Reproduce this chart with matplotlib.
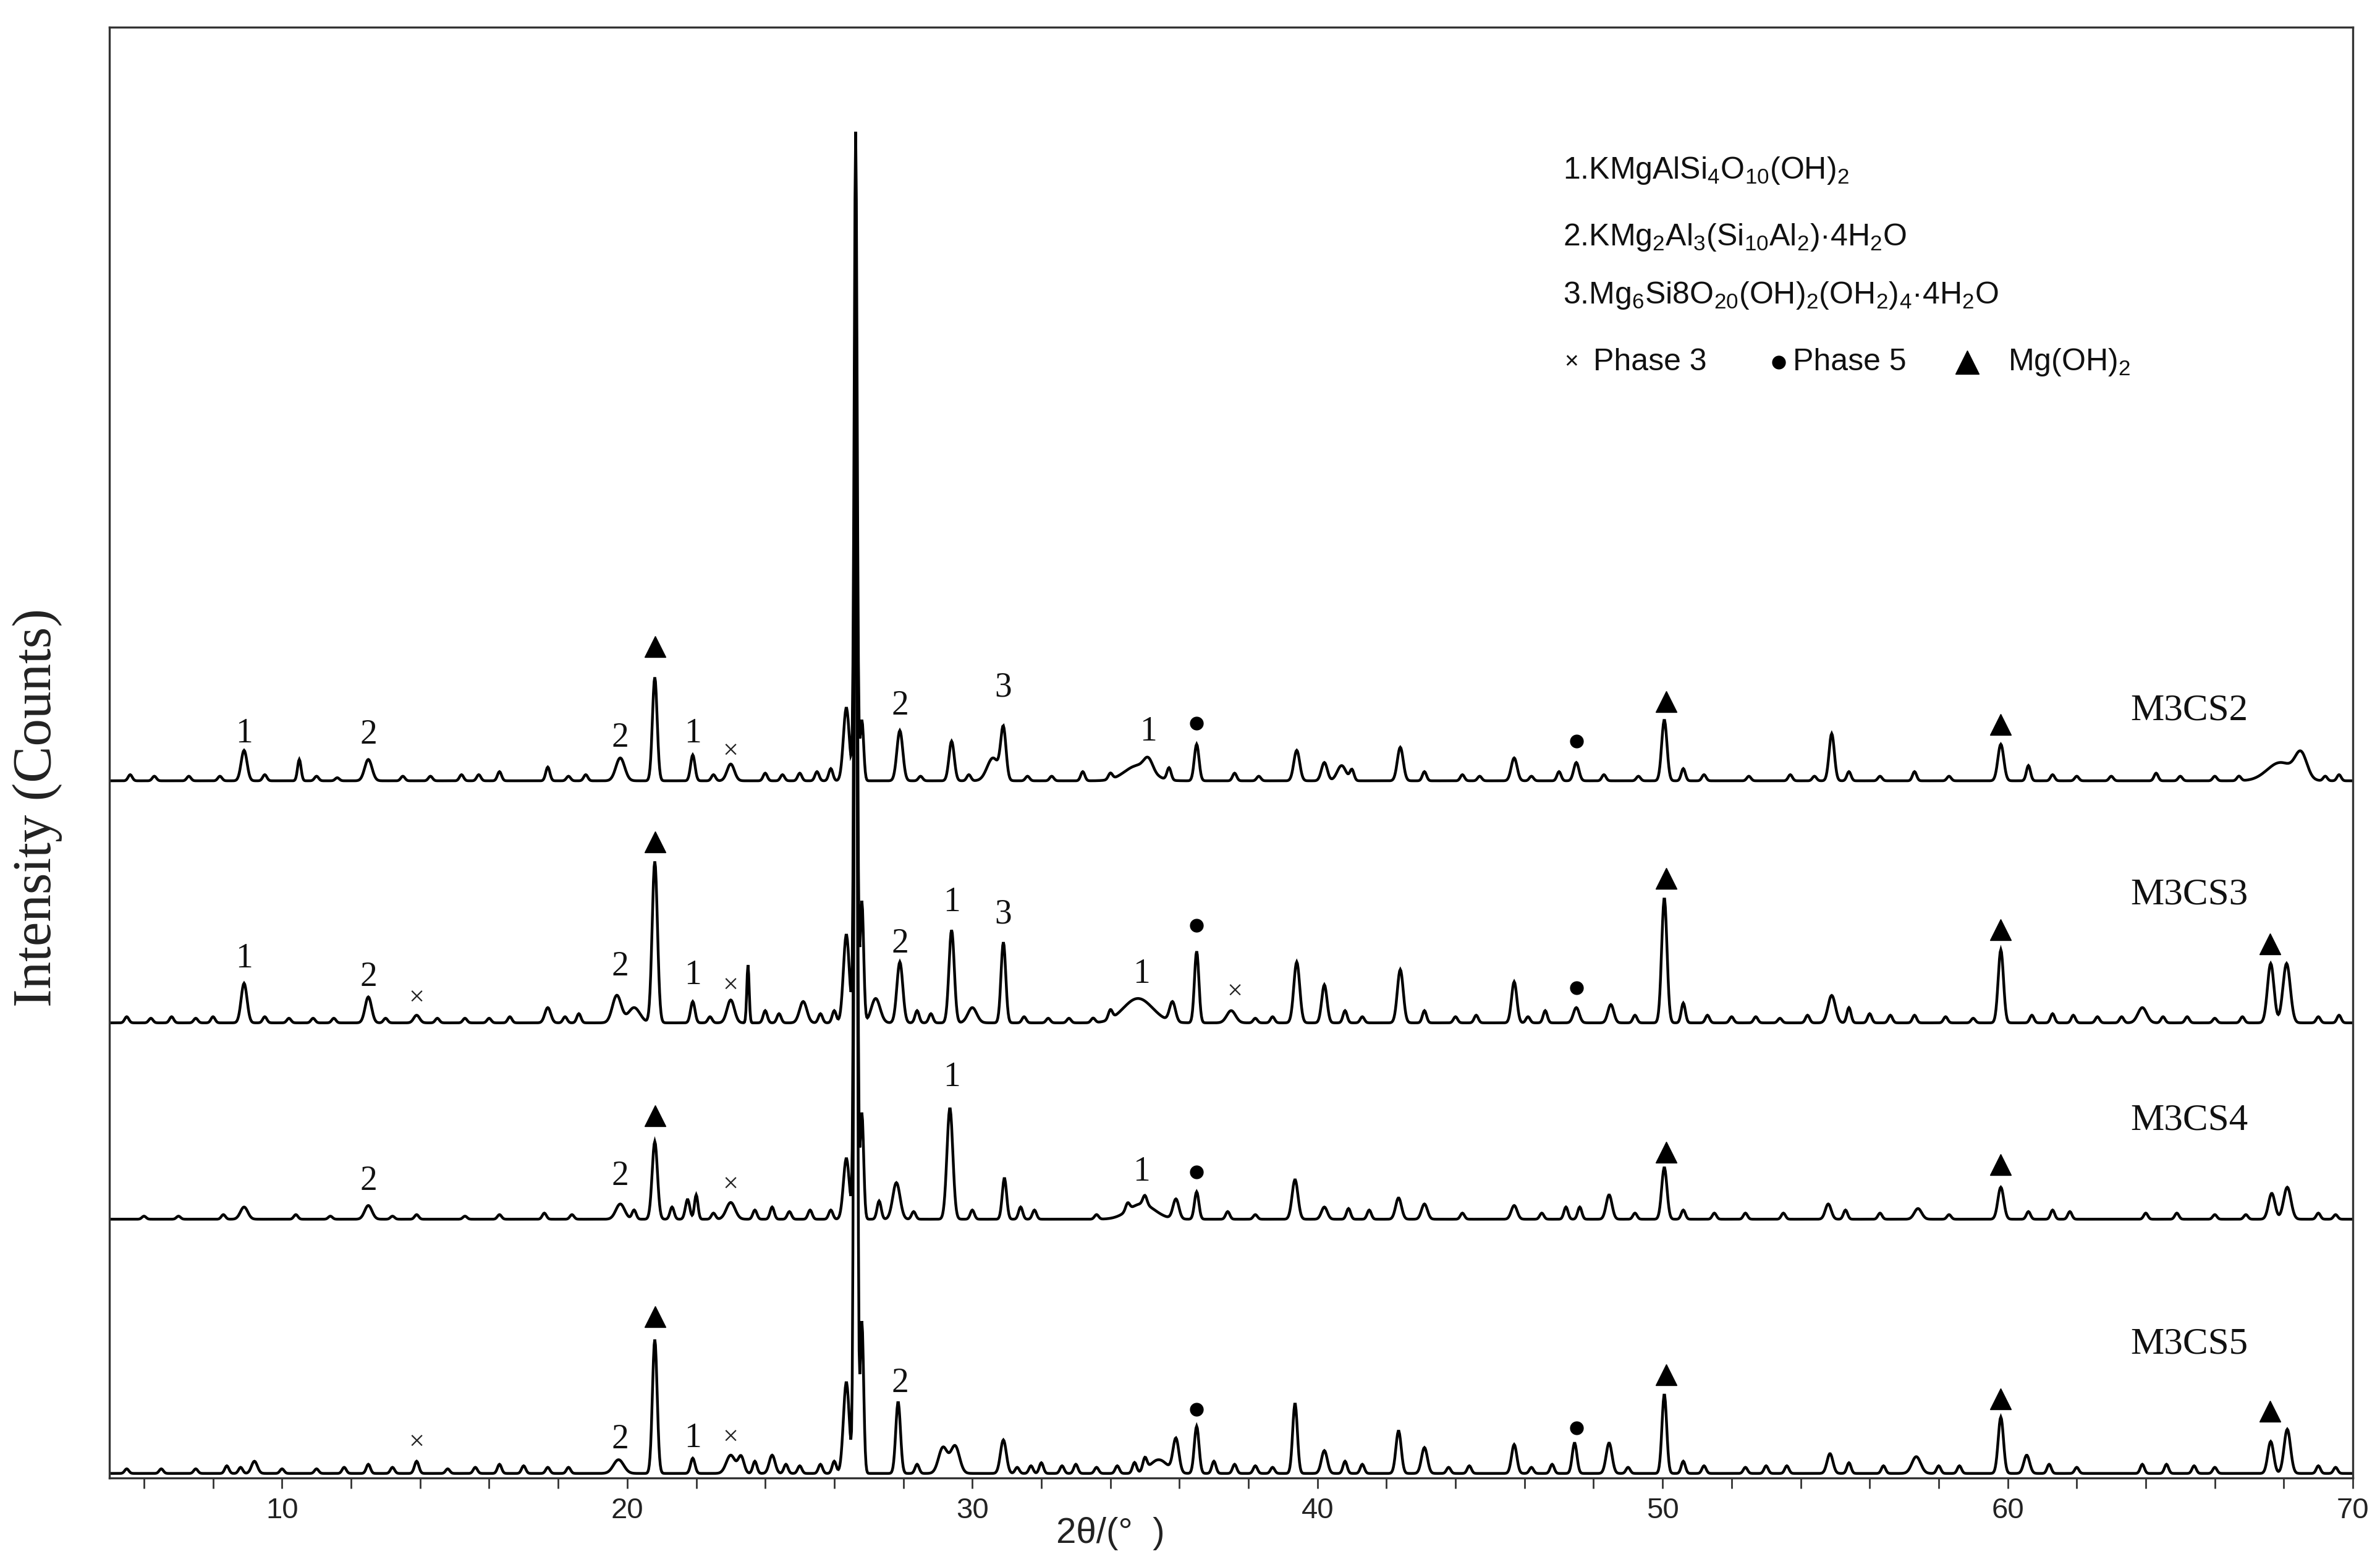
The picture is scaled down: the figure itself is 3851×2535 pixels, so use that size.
import numpy as np
import matplotlib
matplotlib.use("Agg")
import matplotlib.pyplot as plt

plt.rcParams['mathtext.fontset'] = 'custom'
plt.rcParams['mathtext.rm'] = 'Liberation Sans'
plt.rcParams['mathtext.default'] = 'regular'

# ---------------- data ----------------
two_theta_range = [5, 70]
x_ticks_major = [10, 20, 30, 40, 50, 60, 70]
samples = ['M3CS2', 'M3CS3', 'M3CS4', 'M3CS5']
baselines = [458, 299, 170, 3]

# main peaks: position (2theta), height above baseline, FWHM
m3cs2_pos = [8.9, 10.5, 12.5, 19.8, 20.8, 21.9, 23.0, 26.35, 26.62, 26.8, 27.9, 29.4, 30.6, 30.9,
             34.8, 35.1, 36.5, 39.4, 40.2, 40.7, 42.4, 45.7, 47.5, 50.05, 54.9, 59.8, 67.9, 68.5]
m3cs2_h = [20, 14, 14, 15, 68, 17, 11, 48, 426, 40, 33, 26, 15, 33,
           10, 8, 24, 20, 12, 10, 22, 15, 12, 40, 31, 24, 12, 16]
m3cs2_w = [0.2, 0.12, 0.25, 0.3, 0.16, 0.15, 0.25, 0.2, 0.1, 0.12, 0.2, 0.18, 0.4, 0.18,
           0.9, 0.3, 0.16, 0.2, 0.2, 0.3, 0.2, 0.2, 0.18, 0.18, 0.18, 0.2, 0.9, 0.4]

m3cs3_pos = [8.9, 12.5, 13.9, 17.7, 19.7, 20.2, 20.8, 21.9, 23.0, 23.5, 25.1, 26.35, 26.62, 26.8,
             27.2, 27.9, 29.4, 30.0, 30.9, 34.8, 35.8, 36.5, 37.5, 39.4, 40.2, 42.4, 45.7, 47.5,
             48.5, 50.05, 54.9, 59.8, 63.9, 67.62, 68.08]
m3cs3_h = [26, 17, 5, 10, 18, 10, 106, 14, 15, 38, 14, 58, 528, 80,
           16, 40, 61, 10, 53, 16, 13, 47, 8, 40, 25, 35, 27, 10,
           12, 82, 18, 48, 10, 39, 39]
m3cs3_w = [0.2, 0.22, 0.2, 0.2, 0.3, 0.4, 0.18, 0.15, 0.25, 0.08, 0.25, 0.2, 0.1, 0.12,
           0.3, 0.2, 0.18, 0.3, 0.16, 1.0, 0.2, 0.15, 0.3, 0.2, 0.18, 0.2, 0.18, 0.2,
           0.2, 0.18, 0.25, 0.18, 0.3, 0.22, 0.25]

m3cs4_pos = [8.9, 12.5, 19.8, 20.8, 21.75, 22.0, 23.0, 26.35, 26.62, 26.8, 27.8, 29.35, 30.93,
             34.9, 35.9, 36.5, 39.35, 40.2, 42.35, 43.1, 45.7, 48.45, 50.05, 54.8, 57.4, 59.8,
             67.65, 68.1]
m3cs4_h = [8, 9, 10, 51, 13, 16, 11, 40, 656, 70, 24, 73, 27,
           10, 13, 18, 26, 8, 14, 10, 9, 16, 34, 10, 7, 21,
           17, 21]
m3cs4_w = [0.25, 0.25, 0.3, 0.18, 0.15, 0.12, 0.3, 0.2, 0.1, 0.12, 0.25, 0.2, 0.15,
           0.9, 0.2, 0.15, 0.2, 0.2, 0.2, 0.2, 0.2, 0.2, 0.18, 0.2, 0.25, 0.2,
           0.22, 0.25]

m3cs5_pos = [9.2, 13.9, 19.75, 20.8, 21.9, 23.0, 23.3, 24.2, 26.35, 26.62, 26.8, 27.85, 29.15,
             29.5, 30.9, 35.4, 35.9, 36.5, 39.35, 40.2, 42.35, 43.1, 45.7, 47.45, 48.45, 50.05,
             54.85, 57.35, 59.8, 60.55, 67.62, 68.1]
m3cs5_h = [8, 8, 9, 88, 10, 12, 11, 12, 60, 823, 100, 47, 17,
           18, 22, 9, 22, 31, 46, 15, 28, 17, 19, 20, 20, 52,
           13, 11, 37, 12, 21, 29]
m3cs5_w = [0.2, 0.15, 0.35, 0.16, 0.15, 0.3, 0.2, 0.2, 0.2, 0.1, 0.12, 0.16, 0.3,
           0.3, 0.2, 0.6, 0.2, 0.16, 0.16, 0.2, 0.18, 0.2, 0.18, 0.16, 0.2, 0.16,
           0.2, 0.3, 0.18, 0.2, 0.2, 0.22]

# small background bumps: position, height
m3cs2_minor_pos = [5.6, 6.3, 7.3, 8.2, 9.5, 11.0, 11.6, 13.5, 14.3, 15.2, 15.7, 16.3, 17.7, 18.3, 18.8,
                   22.5, 24.0, 24.5, 25.0, 25.5, 25.9, 28.5, 29.9, 31.6, 32.3, 33.2, 34.0, 35.7, 37.6,
                   38.3, 41.0, 43.1, 44.2, 44.7, 46.2, 47.0, 48.3, 49.3, 50.6, 51.2, 52.5, 53.7, 54.4,
                   55.4, 56.3, 57.3, 58.3, 60.6, 61.3, 62.0, 63.0, 64.3, 65.0, 66.0, 66.7, 69.2, 69.6]
m3cs2_minor_h = [4, 3, 3, 3, 4, 3, 2, 3, 3, 4, 4, 6, 9, 3, 4,
                 4, 5, 4, 5, 6, 8, 3, 4, 3, 3, 6, 4, 8, 5,
                 3, 7, 6, 4, 3, 3, 6, 4, 3, 8, 4, 3, 4, 3,
                 6, 3, 6, 3, 10, 4, 3, 3, 5, 3, 3, 3, 3, 4]

m3cs3_minor_pos = [5.5, 6.2, 6.8, 7.5, 8.0, 9.5, 10.2, 10.9, 11.5, 13.0, 14.5, 15.3, 16.0, 16.6, 18.2,
                   18.6, 22.4, 24.0, 24.4, 25.6, 26.0, 28.4, 28.8, 31.5, 32.2, 32.8, 33.5, 34.0, 38.2,
                   38.7, 40.8, 41.3, 43.1, 44.0, 44.6, 46.1, 46.6, 49.2, 50.6, 51.3, 52.0, 52.7, 53.4,
                   54.2, 55.4, 56.0, 56.6, 57.3, 58.2, 59.0, 60.7, 61.3, 61.9, 62.6, 63.3, 64.5, 65.2,
                   66.0, 66.8, 69.0, 69.6]
m3cs3_minor_h = [4, 3, 4, 3, 4, 4, 3, 3, 3, 3, 3, 3, 3, 4, 4,
                 6, 4, 8, 6, 6, 8, 8, 6, 4, 3, 3, 3, 6, 3,
                 4, 8, 4, 8, 4, 5, 4, 8, 5, 13, 5, 4, 4, 3,
                 5, 10, 6, 5, 5, 4, 3, 5, 6, 5, 4, 4, 4, 4,
                 3, 4, 4, 5]

m3cs4_minor_pos = [6.0, 7.0, 8.3, 10.4, 11.4, 13.2, 13.9, 15.3, 16.3, 17.6, 18.4, 20.2, 21.3, 22.5,
                   23.7, 24.2, 24.7, 25.3, 25.9, 27.3, 28.3, 30.0, 31.4, 31.8, 33.6, 34.5, 35.0, 37.4,
                   38.2, 40.9, 41.5, 44.2, 46.5, 47.2, 47.6, 49.2, 50.6, 51.5, 52.4, 53.5, 55.3, 56.3,
                   58.3, 60.6, 61.3, 61.8, 64.0, 64.9, 66.0, 66.9, 69.0, 69.5]
m3cs4_minor_h = [2, 2, 3, 3, 2, 2, 3, 2, 3, 4, 3, 6, 8, 4,
                 6, 8, 5, 6, 6, 12, 5, 6, 8, 6, 3, 5, 6, 5,
                 3, 7, 6, 4, 4, 8, 8, 4, 6, 4, 4, 4, 6, 4,
                 3, 5, 6, 5, 4, 4, 3, 3, 4, 3]

m3cs5_minor_pos = [5.5, 6.5, 7.5, 8.4, 8.8, 10.0, 11.0, 11.8, 12.5, 13.2, 14.8, 15.6, 16.3, 17.0, 17.7,
                   18.3, 23.7, 24.6, 25.0, 25.6, 26.0, 28.4, 31.3, 31.7, 32.0, 32.6, 33.0, 33.6, 34.2,
                   34.7, 35.0, 37.0, 37.6, 38.2, 38.7, 40.8, 41.3, 43.8, 44.4, 46.2, 46.8, 49.0, 50.6,
                   51.2, 52.4, 53.0, 53.6, 55.4, 56.4, 58.0, 58.6, 61.2, 62.0, 63.9, 64.6, 65.4, 66.0,
                   69.0, 69.5]
m3cs5_minor_h = [3, 3, 3, 5, 4, 3, 3, 4, 6, 4, 3, 4, 6, 5, 4,
                 4, 8, 6, 5, 6, 8, 6, 4, 5, 7, 5, 6, 4, 5,
                 7, 8, 8, 6, 5, 4, 8, 6, 4, 5, 4, 6, 4, 8,
                 5, 4, 5, 5, 7, 5, 5, 5, 6, 4, 6, 6, 5, 4,
                 5, 4]

# annotations (2theta, intensity position)
num_text = ['1', '2', '2', '1', '2', '3', '1',
            '1', '2', '2', '1', '2', '1', '3', '1',
            '2', '2', '1', '1',
            '2', '1', '2']
num_x = [8.9, 12.5, 19.8, 21.9, 27.9, 30.9, 35.1,
         8.9, 12.5, 19.8, 21.9, 27.9, 29.4, 30.9, 34.9,
         12.5, 19.8, 29.4, 34.9,
         19.8, 21.9, 27.9]
num_y = [489, 488, 486, 489, 507, 519, 490,
         341, 329, 336, 330, 351, 378, 370, 331,
         195, 198, 263, 201,
         25, 26, 62]
cross_x = [23.0, 13.9, 23.0, 37.6, 23.0, 13.9, 23.0]
cross_y = [477, 315, 323, 319, 192, 23, 26]
tri_x = [20.8, 50.1, 59.8, 20.8, 50.1, 59.8, 67.6, 20.8, 50.1, 59.8, 20.8, 50.1, 59.8, 67.6]
tri_y = [546, 510, 495, 418, 394, 360, 351, 238, 214, 206, 106, 68, 52, 44]
dot_x = [36.5, 47.5, 36.5, 47.5, 36.5, 36.5, 47.5]
dot_y = [496, 484, 363, 322, 201, 45, 33]
sample_label_y = [504, 383, 235, 88]

legend_lines = [r'1.KMgAlSi$_4$O$_{10}$(OH)$_2$',
                r'2.KMg$_2$Al$_3$(Si$_{10}$Al$_2$)·4H$_2$O',
                r'3.Mg$_6$Si8O$_{20}$(OH)$_2$(OH$_2$)$_4$·4H$_2$O']
legend_y = [859, 815, 777]
legend_row4_y = 733

# ---------------- drawing ----------------
x = np.arange(two_theta_range[0], two_theta_range[1] + 1e-9, 0.02)
MINOR_FWHM = 0.14


def pattern(base, pos, h, w, mpos, mh):
    y = np.full_like(x, float(base))
    for p, a, fw in zip(pos, h, w):
        s = fw / 2.3548
        y += a * np.exp(-0.5 * ((x - p) / s) ** 2)
    s = MINOR_FWHM / 2.3548
    for p, a in zip(mpos, mh):
        y += a * np.exp(-0.5 * ((x - p) / s) ** 2)
    return y


traces = [
    pattern(baselines[0], m3cs2_pos, m3cs2_h, m3cs2_w, m3cs2_minor_pos, m3cs2_minor_h),
    pattern(baselines[1], m3cs3_pos, m3cs3_h, m3cs3_w, m3cs3_minor_pos, m3cs3_minor_h),
    pattern(baselines[2], m3cs4_pos, m3cs4_h, m3cs4_w, m3cs4_minor_pos, m3cs4_minor_h),
    pattern(baselines[3], m3cs5_pos, m3cs5_h, m3cs5_w, m3cs5_minor_pos, m3cs5_minor_h),
]

fig = plt.figure(figsize=(38.51, 25.35), dpi=100)
ax = fig.add_axes([0.046, 0.0568, 0.9426, 0.9258])

for y in traces:
    ax.plot(x, y, color='black', lw=3.2, solid_joinstyle='miter')

ax.set_xlim(two_theta_range)
ax.set_ylim(0, 953)

serif = ['Liberation Serif', 'DejaVu Serif']
sans = ['Liberation Sans', 'DejaVu Sans']

for t, xx, yy in zip(num_text, num_x, num_y):
    ax.text(xx, yy, t, family=serif, fontsize=40, ha='center', va='center', color='#111')
for xx, yy in zip(cross_x, cross_y):
    ax.text(xx, yy, '×', family=serif, fontsize=32, ha='center', va='center', color='#222')
ax.plot(tri_x, tri_y, linestyle='none', marker='^', ms=25, color='black')
ax.plot(dot_x, dot_y, linestyle='none', marker='o', ms=15, color='black')

for name, yy in zip(samples, sample_label_y):
    ax.text(63.55, yy, name, family=serif, fontsize=44, ha='left', va='center', color='#111')

for t, yy in zip(legend_lines, legend_y):
    ax.text(47.12, yy, t, family=sans, fontsize=36, ha='left', va='center', color='#111')
ax.text(47.35, legend_row4_y, '×', family=sans, fontsize=28, ha='center', va='center', color='#111')
ax.text(48.0, legend_row4_y, 'Phase 3', family=sans, fontsize=36, ha='left', va='center', color='#111')
ax.plot([53.37], [legend_row4_y], linestyle='none', marker='o', ms=15, color='black')
ax.text(53.77, legend_row4_y, 'Phase 5', family=sans, fontsize=36, ha='left', va='center', color='#111')
ax.plot([58.82], [legend_row4_y], linestyle='none', marker='^', ms=28, color='black')
ax.text(60.0, legend_row4_y, r'Mg(OH)$_2$', family=sans, fontsize=36, ha='left', va='center', color='#111')

# axes styling
for sp in ax.spines.values():
    sp.set_linewidth(2.4)
    sp.set_color('#333333')
ax.set_xticks(x_ticks_major)
ax.set_xticks(np.arange(6, 70, 2), minor=True)
ax.tick_params(axis='x', which='both', direction='out', length=12, width=2, color='#333333',
               top=False, labelsize=34, pad=10, labelcolor='#222')
ax.tick_params(axis='x', which='minor', labelbottom=False)
for lab in ax.get_xticklabels():
    lab.set_family(sans)
ax.set_yticks([])

ax.set_xlabel('2θ/(°  )', family=sans, fontsize=42, color='#222')
ax.xaxis.set_label_coords((34.0 - 5) / 65, -0.027)
ax.xaxis.label.set_va('top')
ax.set_ylabel('Intensity (Counts)', family=serif, fontsize=64, color='#222')
ax.yaxis.set_label_coords(-0.032, 0.462)
ax.yaxis.label.set_va('center')

fig.savefig('out.png', dpi=100, facecolor='white')
